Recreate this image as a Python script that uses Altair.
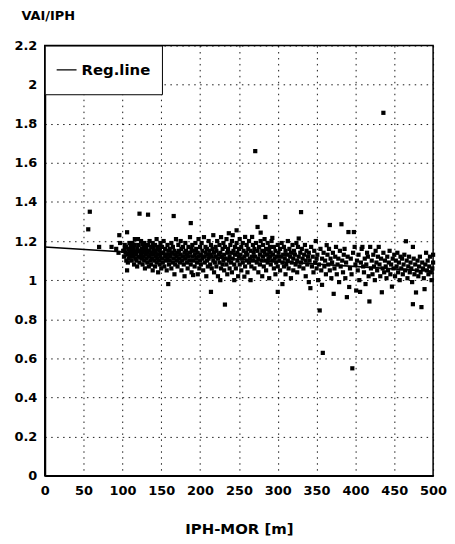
import altair as alt
import pandas as pd

x_ticks = [0, 50, 100, 150, 200, 250, 300, 350, 400, 450, 500]
y_ticks = [0, 0.2, 0.4, 0.6, 0.8, 1, 1.2, 1.4, 1.6, 1.8, 2, 2.2]

reg_line_x = [0, 500]
reg_line_y = [1.17, 1.045]
reg_label = "Reg.line"

# (IPH-MOR [m], VAI/IPH)
scatter_points = [
    (56, 1.26), (58, 1.35), (70, 1.17), (86, 1.17), (92, 1.16), (95, 1.14), (97, 1.19), (96, 1.23),
    (101, 1.15), (102, 1.12), (103, 1.18), (104, 1.14), (105, 1.10), (105, 1.17), (106, 1.245), (106, 1.05),
    (107, 1.13), (108, 1.16), (108, 1.11), (109, 1.19), (109, 1.14), (110, 1.12), (103, 1.16), (107, 1.09),
    (111, 1.17), (111, 1.13), (112, 1.10), (112, 1.15), (113, 1.19), (114, 1.12), (114, 1.16), (115, 1.08),
    (115, 1.14), (116, 1.21), (116, 1.18), (117, 1.11), (118, 1.10), (118, 1.13), (119, 1.16), (119, 1.07),
    (120, 1.21), (120, 1.15), (113, 1.135), (117, 1.145),
    (121, 1.12), (121, 1.18), (122, 1.34), (122, 1.09), (123, 1.15), (124, 1.13), (124, 1.20), (125, 1.11),
    (125, 1.16), (126, 1.08), (126, 1.14), (127, 1.17), (127, 1.12), (128, 1.10), (128, 1.19), (129, 1.15),
    (129, 1.06), (130, 1.13), (130, 1.17), (123, 1.115), (126, 1.185),
    (131, 1.11), (131, 1.16), (132, 1.14), (132, 1.09), (133, 1.335), (133, 1.18), (134, 1.12), (134, 1.07),
    (135, 1.15), (135, 1.20), (136, 1.10), (136, 1.13), (137, 1.17), (137, 1.08), (138, 1.14), (138, 1.11),
    (139, 1.19), (139, 1.05), (140, 1.13), (140, 1.16),
    (141, 1.10), (141, 1.15), (142, 1.18), (142, 1.07), (143, 1.12), (143, 1.14), (144, 1.09), (144, 1.21),
    (145, 1.16), (145, 1.11), (146, 1.13), (146, 1.04), (147, 1.17), (147, 1.10), (148, 1.15), (148, 1.08),
    (149, 1.12), (149, 1.19), (150, 1.14), (150, 1.06),
    (151, 1.11), (151, 1.17), (152, 1.09), (153, 1.14), (153, 1.20), (154, 1.07), (155, 1.12), (155, 1.16),
    (156, 1.10), (157, 1.13), (157, 1.05), (158, 1.18), (158, 1.11), (159, 0.98), (159, 1.15), (160, 1.08),
    (160, 1.13),
    (161, 1.16), (161, 1.10), (162, 1.12), (163, 1.19), (163, 1.06), (164, 1.14), (165, 1.09), (165, 1.17),
    (166, 1.328), (166, 1.11), (167, 1.03), (167, 1.15), (168, 1.13), (168, 1.08), (169, 1.21), (170, 1.12),
    (170, 1.10),
    (171, 1.14), (171, 1.07), (172, 1.18), (173, 1.11), (173, 1.15), (174, 1.09), (175, 1.13), (175, 1.20),
    (176, 1.05), (176, 1.16), (177, 1.10), (178, 1.12), (178, 1.17), (179, 1.08), (180, 1.14), (180, 1.02),
    (181, 1.11), (181, 1.19), (182, 1.15), (183, 1.09), (183, 1.13), (184, 1.06), (185, 1.17), (185, 1.12),
    (186, 1.10), (187, 1.22), (187, 1.14), (188, 1.292), (188, 1.08), (189, 1.16), (189, 1.04), (190, 1.12),
    (190, 1.18),
    (191, 1.026), (191, 1.10), (192, 1.15), (193, 1.13), (193, 1.07), (194, 1.19), (195, 1.11), (195, 1.16),
    (196, 1.09), (197, 1.14), (197, 1.03), (198, 1.21), (198, 1.12), (199, 1.06), (200, 1.17), (200, 1.10),
    (201, 1.13), (201, 1.08), (202, 1.19), (203, 1.11), (203, 1.15), (204, 1.05), (205, 1.22), (205, 1.12),
    (206, 1.09), (207, 1.17), (207, 1.14), (208, 1.02), (209, 1.10), (209, 1.16), (210, 1.13), (210, 1.07),
    (211, 1.20), (211, 1.11), (212, 1.15), (213, 1.08), (213, 1.13), (214, 0.94), (214, 1.18), (215, 1.06),
    (215, 1.12), (216, 1.16), (217, 1.10), (217, 1.23), (218, 1.14), (218, 1.04), (219, 1.09), (220, 1.17),
    (220, 1.12),
    (221, 1.07), (221, 1.15), (222, 1.20), (223, 1.11), (223, 1.02), (224, 1.13), (225, 1.18), (225, 1.09),
    (226, 1.00), (226, 1.14), (227, 1.06), (227, 1.22), (228, 1.12), (229, 1.16), (229, 1.08), (230, 1.10),
    (230, 1.19),
    (231, 1.13), (231, 1.05), (232, 0.875), (232, 1.17), (233, 1.11), (234, 1.21), (234, 1.08), (235, 1.14),
    (235, 1.03), (236, 1.16), (237, 1.10), (237, 1.24), (238, 1.12), (238, 1.06), (239, 1.18), (240, 1.09),
    (240, 1.14),
    (241, 1.20), (241, 1.04), (242, 1.23), (242, 1.11), (243, 1.15), (244, 1.00), (244, 1.08), (245, 1.17),
    (245, 1.13), (246, 1.06), (247, 1.255), (247, 1.19), (248, 1.10), (248, 1.14), (249, 1.02), (250, 1.16),
    (250, 1.12),
    (251, 1.08), (251, 1.21), (252, 1.13), (253, 1.05), (253, 1.17), (254, 1.11), (255, 1.19), (255, 1.09),
    (256, 1.15), (257, 1.018), (257, 1.12), (258, 1.221), (258, 1.07), (259, 1.14), (260, 1.10), (260, 1.18),
    (261, 1.13), (261, 1.04), (262, 1.16), (263, 1.20), (263, 1.09), (264, 1.11), (265, 1.00), (265, 1.15),
    (266, 1.07), (267, 1.221), (267, 1.12), (268, 1.18), (268, 1.10), (269, 1.14), (270, 1.06), (270, 1.16),
    (271, 1.66), (271, 1.12), (272, 1.19), (273, 1.09), (274, 1.272), (274, 1.15), (275, 1.11), (275, 1.04),
    (276, 1.17), (277, 1.13), (277, 1.08), (278, 1.243), (278, 1.20), (279, 1.10), (280, 1.15), (280, 1.02),
    (281, 1.12), (281, 1.18), (282, 1.07), (283, 1.14), (283, 1.21), (284, 1.323), (284, 1.10), (285, 1.16),
    (285, 1.05), (286, 1.13), (287, 1.19), (287, 1.09), (288, 1.11), (289, 1.15), (289, 1.01), (290, 1.17),
    (290, 1.12),
    (291, 1.08), (291, 1.14), (292, 1.20), (293, 1.216), (293, 1.10), (294, 1.13), (295, 1.06), (295, 1.17),
    (296, 1.11), (297, 1.15), (297, 1.03), (298, 1.09), (299, 1.12), (300, 0.94), (300, 1.18), (300, 1.07),
    (301, 1.14), (302, 1.10), (303, 1.16), (303, 1.05), (304, 1.12), (305, 1.19), (306, 0.98), (306, 1.09),
    (307, 1.13), (308, 1.07), (308, 1.17), (309, 1.11), (310, 1.15), (310, 1.03),
    (311, 1.08), (312, 1.13), (313, 1.20), (313, 1.10), (314, 1.06), (315, 1.16), (316, 1.12), (317, 1.01),
    (317, 1.14), (318, 1.09), (319, 1.18), (320, 1.11), (320, 1.05),
    (321, 1.15), (322, 1.13), (323, 1.08), (324, 1.19), (325, 1.10), (325, 1.04), (326, 1.17), (327, 1.213),
    (327, 1.12), (328, 1.07), (329, 1.14), (330, 1.348), (330, 1.09),
    (331, 1.16), (332, 1.11), (333, 1.06), (334, 1.13), (335, 1.18), (336, 1.02), (336, 1.10), (337, 1.15),
    (338, 1.08), (339, 1.12), (340, 0.99), (340, 1.14),
    (341, 1.10), (342, 0.959), (343, 1.17), (344, 1.07), (345, 1.12), (346, 1.04), (347, 1.15), (348, 1.09),
    (349, 1.20), (350, 1.06), (350, 1.11),
    (351, 1.13), (352, 1.00), (353, 1.08), (354, 0.845), (355, 1.16), (356, 1.05), (357, 0.976), (357, 1.11),
    (358, 0.628), (359, 1.14), (360, 1.07),
    (361, 1.10), (362, 1.03), (363, 1.179), (364, 1.13), (365, 1.08), (366, 1.16), (367, 1.282), (367, 1.05),
    (368, 1.11), (369, 1.01), (370, 1.09),
    (371, 1.14), (372, 0.93), (373, 1.06), (374, 1.12), (375, 1.17), (376, 1.03), (377, 1.08), (378, 1.11),
    (379, 0.99), (380, 1.15),
    (381, 1.07), (382, 1.286), (383, 1.10), (384, 1.04), (385, 1.13), (386, 1.16), (387, 1.01), (388, 1.09),
    (389, 0.913), (390, 1.12),
    (391, 1.246), (392, 0.965), (393, 1.06), (394, 1.11), (395, 1.03), (396, 0.549), (397, 1.14), (398, 1.246),
    (399, 1.17), (400, 1.08),
    (401, 0.947), (402, 1.10), (403, 1.05), (404, 1.13), (405, 1.00), (406, 0.94), (407, 1.09), (408, 1.16),
    (409, 1.17), (410, 1.07),
    (411, 1.04), (412, 1.11), (413, 0.98), (414, 1.08), (415, 1.14), (416, 1.12), (417, 1.02), (418, 0.891),
    (419, 1.17), (420, 1.06),
    (421, 1.10), (422, 1.03), (423, 1.13), (424, 1.07), (425, 1.00), (426, 1.15), (427, 1.09), (428, 1.05),
    (429, 1.12), (430, 1.17),
    (431, 1.08), (432, 1.02), (433, 1.11), (434, 0.938), (435, 1.06), (436, 1.856), (436, 1.14), (437, 1.04),
    (438, 1.10), (439, 1.07), (440, 1.01),
    (441, 1.12), (442, 1.05), (443, 1.09), (444, 1.15), (445, 1.03), (446, 1.08), (447, 0.967), (448, 1.11),
    (449, 1.06), (450, 1.13),
    (451, 1.02), (452, 1.10), (453, 1.07), (454, 1.14), (455, 1.04), (456, 1.09), (457, 1.00), (458, 1.12),
    (459, 1.06), (460, 1.11),
    (461, 1.03), (462, 1.08), (463, 1.13), (464, 1.05), (465, 1.199), (466, 1.10), (467, 1.01), (468, 1.07),
    (469, 1.12), (470, 1.04),
    (471, 1.09), (472, 1.06), (473, 0.99), (474, 1.17), (474, 0.877), (475, 1.11), (476, 1.03), (477, 1.08),
    (478, 0.937), (479, 1.05), (480, 1.10),
    (481, 1.02), (482, 1.07), (483, 1.12), (484, 1.04), (485, 0.862), (486, 1.09), (487, 1.06), (488, 1.01),
    (489, 0.954), (490, 1.08),
    (491, 1.14), (492, 1.05), (493, 1.10), (494, 1.03), (495, 1.07), (496, 1.12), (497, 1.04), (498, 1.00),
    (499, 1.06), (500, 1.09), (500, 1.13),
]

pts = pd.DataFrame(scatter_points, columns=["dist", "ratio"])
line_df = pd.DataFrame({"dist": reg_line_x, "ratio": reg_line_y, "series": [reg_label] * len(reg_line_x)})

FONT = "DejaVu Sans"

x_scale = alt.Scale(domain=[0, 500], nice=False, zero=False)
y_scale = alt.Scale(domain=[0, 2.2], nice=False, zero=False)

x_axis = alt.Axis(values=x_ticks, title="IPH-MOR [m]", format="d",
                  labelOverlap=False, labelFlush=False,
                  labelPadding=9, titlePadding=24, titleFontSize=15)
y_axis = alt.Axis(values=y_ticks, title="VAI/IPH", format=".1~f",
                  labelOverlap=False, labelFlush=False,
                  labelPadding=8, titleAngle=0, titleAlign="left",
                  titleBaseline="alphabetic", titleX=-24, titleY=-26, titleFontSize=13)

points = alt.Chart(pts).mark_square(size=18, color="black", opacity=1, filled=True).encode(
    x=alt.X("dist:Q", scale=x_scale, axis=x_axis),
    y=alt.Y("ratio:Q", scale=y_scale, axis=y_axis),
)

reg = alt.Chart(line_df).mark_line(strokeWidth=1.6).encode(
    x=alt.X("dist:Q", scale=x_scale, axis=x_axis),
    y=alt.Y("ratio:Q", scale=y_scale, axis=y_axis),
    color=alt.Color(
        "series:N",
        scale=alt.Scale(range=["black"]),
        legend=alt.Legend(
            title=None, orient="top-left", offset=0, padding=11,
            fillColor="white", strokeColor="black",
            symbolType="stroke", symbolSize=400, symbolStrokeWidth=1.3,
            symbolStrokeColor="black",
            labelFont=FONT, labelFontWeight="bold", labelFontSize=15,
            labelColor="black", labelOffset=4, clipHeight=27,
        ),
    ),
)

chart = alt.layer(points, reg).properties(
    width=391, height=433,
    padding={"left": 5, "top": 0, "right": 0, "bottom": 5},
    background="white",
).configure_view(
    stroke="black", strokeWidth=1.5
).configure_axis(
    domainColor="black", domainWidth=2, ticks=False,
    grid=True, gridColor="black", gridDash=[1.5, 4.5], gridWidth=1, gridOpacity=0.9,
    labelFont=FONT, labelFontSize=13, labelFontWeight="bold", labelColor="black",
    titleFont=FONT, titleFontWeight="bold", titleColor="black",
)

chart.save("out.html", embed_options={"renderer": "svg", "actions": False})
